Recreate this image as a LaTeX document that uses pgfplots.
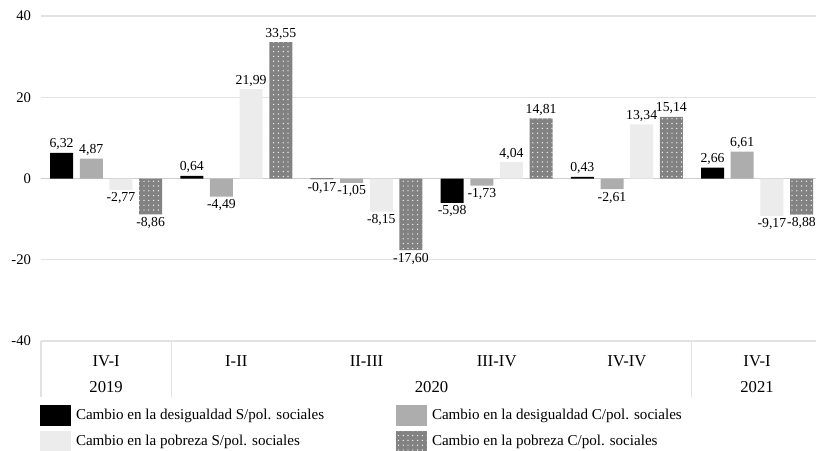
\documentclass[border=0pt]{standalone}
\usepackage{fontspec}
\setmainfont{Liberation Serif}
\usepackage{pgfplots}
\pgfplotsset{compat=1.18}
\usetikzlibrary{patterns.meta}
\definecolor{cA}{HTML}{000000}
\definecolor{cB}{HTML}{ADADAD}
\definecolor{cC}{HTML}{EBECEB}
\definecolor{cD}{HTML}{828282}
\definecolor{gridc}{HTML}{E2E2E2}
\definecolor{zeroc}{HTML}{CFCFCF}
\newcommand{\tabfont}{\fontsize{12.5}{14}\selectfont}
\pgfplotsset{mylegend/.style={legend image code/.code={\path[##1,draw=none] (0pt,-7.875pt) rectangle (23.25pt,7.875pt);}}}
\begin{document}
\begin{tikzpicture}
\path[use as bounding box] (-30.75pt,-81.75pt) rectangle (581.25pt,255.75pt);
\begin{axis}[
  at={(0,0)}, anchor=south west,
  scale only axis,
  width=581.25pt, height=243.75pt,
  xmin=-0.5, xmax=5.453,
  ymin=-40, ymax=40,
  ytick={-40,-20,20,40},
  extra y ticks={0},
  extra y tick style={grid style={zeroc, line width=0.8pt}},
  ymajorgrids,
  grid style={gridc, line width=0.8pt},
  axis line style={draw=none},
  tick style={draw=none},
  xtick={0,1,2,3,4,5},
  xticklabels={IV-I,I-II,II-III,III-IV,IV-IV,IV-I},
  xticklabel style={font=\tabfont, anchor=center, yshift=-10.5pt},
  yticklabel style={font=\fontsize{11}{13}\selectfont, xshift=-4pt},
  /pgf/number format/assume math mode=true,
  ybar=5pt, bar width=17.25pt,
  nodes near coords={\pgfmathprintnumber[fixed,fixed zerofill,precision=2,use comma,assume math mode=true]{\pgfplotspointmeta}},
  nodes near coords style={font=\fontsize{10.3}{11}\selectfont, text=black, inner sep=2pt},
  clip=false,
  legend columns=2,
  legend cell align=left,
  legend style={at={(0,0)}, anchor=north west, xshift=-0.75pt, yshift=-48pt,
    draw=none, fill=none, inner sep=0pt, outer sep=0pt,
    font=\fontsize{11.3}{13}\selectfont,
    nodes={inner sep=0pt, outer sep=0pt},
    row sep=3.75pt,
    /tikz/every odd column/.style={column sep=3.75pt},
    /tikz/every even column/.style={column sep=0pt}},
]
\addplot[fill=cA, draw=none, mylegend] coordinates {(0,6.32) (1,0.64) (2,-0.17) (3,-5.98) (4,0.43) (5,2.66)};
\addlegendentry{\makebox[240pt][l]{Cambio en la desigualdad S/pol. sociales}}
\addplot[fill=cB, draw=none, mylegend] coordinates {(0,4.87) (1,-4.49) (2,-1.05) (3,-1.73) (4,-2.61) (5,6.61)};
\addlegendentry{Cambio en la desigualdad C/pol. sociales}
\addplot[fill=cC, draw=none, mylegend] coordinates {(0,-2.77) (1,21.99) (2,-8.15) (3,4.04) (4,13.34) (5,-9.17)};
\addlegendentry{\makebox[240pt][l]{Cambio en la pobreza S/pol. sociales}}
\addplot[fill=cD, draw=none, mylegend, postaction={pattern={Dots[distance=3.6pt,radius=0.5pt]}, pattern color=white}] coordinates {(0,-8.86) (1,33.55) (2,-17.60) (3,14.81) (4,15.14) (5,-8.88)};
\addlegendentry{Cambio en la pobreza C/pol. sociales}
\draw[gridc, line width=0.8pt] (axis cs:-0.5,-40) -- (axis cs:-0.5,-53.8);
\draw[gridc, line width=0.8pt] (axis cs:0.5,-40) -- (axis cs:0.5,-53.8);
\draw[gridc, line width=0.8pt] (axis cs:4.5,-40) -- (axis cs:4.5,-53.8);
\node[font=\tabfont, yshift=-34.75pt] at (axis cs:0,-40) {2019};
\node[font=\tabfont, yshift=-34.75pt] at (axis cs:2.5,-40) {2020};
\node[font=\tabfont, yshift=-34.75pt] at (axis cs:5,-40) {2021};
\end{axis}
\end{tikzpicture}
\end{document}
